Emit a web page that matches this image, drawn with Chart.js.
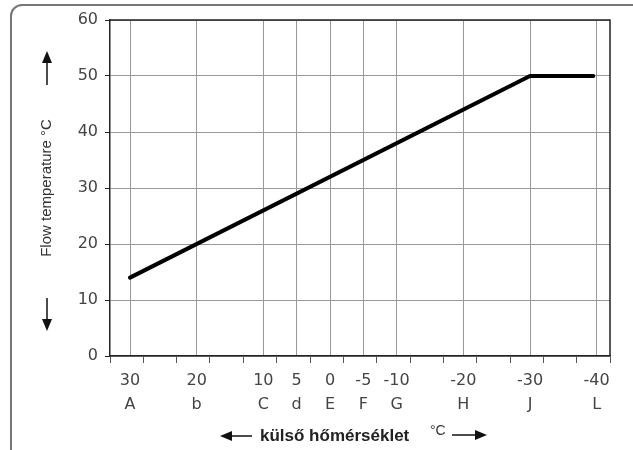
<!DOCTYPE html>
<html>
<head>
<meta charset="utf-8">
<script src="https://cdn.jsdelivr.net/npm/chart.js@4"></script>
<style>
  html, body { margin: 0; padding: 0; background: #fff; overflow: hidden; }
  .wrap { position: relative; width: 633px; height: 450px; }
  .frame {
    position: absolute; left: 10px; top: 4px; right: -20px; bottom: -20px;
    border: 2px solid #777; border-top-left-radius: 12px;
  }
  canvas { position: absolute; left: 0; top: 0; }
</style>
</head>
<body>
<div class="wrap">
  <div class="frame"></div>
  <canvas id="curve" width="633" height="450"></canvas>
</div>
<script>
// outside temperature marks on the x axis (number + letter)
const outsideTemps = [30, 20, 10, 5, 0, -5, -10, -20, -30, -40];
const tempLetters = ['A', 'b', 'C', 'd', 'E', 'F', 'G', 'H', 'J', 'L'];
// the small unlabelled tick marks under the axis
const minorTicks = [33, 28, 23, 18, 13, 8, 3, -2, -7, -12, -17, -22, -27, -32, -37, -42];

// heating curve
const curveOutside = [30, -30, -39.5];
const curveFlow = [14, 50, 50];

const yTicks = [0, 10, 20, 30, 40, 50, 60];

const tickFont = { family: 'DejaVu Sans', size: 16 };
const dark = '#222';

function arrow(ctx, x1, y1, x2, y2) {
    // shaft from (x1,y1) to the tip at (x2,y2)
    const ang = Math.atan2(y2 - y1, x2 - x1);
    const head = 12, half = 5;
    const bx = x2 - head * Math.cos(ang), by = y2 - head * Math.sin(ang);
    ctx.beginPath();
    ctx.moveTo(x1, y1);
    ctx.lineTo(bx, by);
    ctx.lineWidth = 1.5;
    ctx.stroke();
    ctx.beginPath();
    ctx.moveTo(x2, y2);
    ctx.lineTo(bx + half * Math.sin(ang), by - half * Math.cos(ang));
    ctx.lineTo(bx - half * Math.sin(ang), by + half * Math.cos(ang));
    ctx.closePath();
    ctx.fill();
}

const decorations = {
    id: 'decorations',
    afterDraw(chart) {
        const { ctx, chartArea: a } = chart;
        ctx.save();
        // top and right plot border
        ctx.strokeStyle = dark;
        ctx.lineWidth = 1.5;
        ctx.beginPath();
        ctx.moveTo(a.left, a.top);
        ctx.lineTo(a.right, a.top);
        ctx.lineTo(a.right, a.bottom);
        ctx.stroke();

        ctx.fillStyle = '#111';
        ctx.strokeStyle = '#111';
        // arrows beside the y title
        arrow(ctx, 47, a.top + 65, 47, a.top + 31);
        arrow(ctx, 47, a.top + 278, 47, a.top + 311);

        // x title with arrows
        const y = 436;
        const cx = (a.left + a.right) / 2;
        ctx.font = 'bold 17px "Liberation Sans"';
        ctx.textBaseline = 'middle';
        ctx.textAlign = 'left';
        ctx.fillStyle = '#222';
        ctx.fillText('külső hőmérséklet', cx - 100, y);
        ctx.font = '14px "Liberation Sans"';
        ctx.fillStyle = '#333';
        ctx.fillText('°C', cx + 70, y - 5);
        ctx.fillStyle = '#111';
        arrow(ctx, cx - 108, y, cx - 140, y);
        arrow(ctx, cx + 92, y - 1, cx + 127, y - 1);
        ctx.restore();
    }
};

const labelSet = new Set(outsideTemps);

new Chart(document.getElementById('curve'), {
    type: 'line',
    data: {
        datasets: [{
            data: curveOutside.map((x, i) => ({ x, y: curveFlow[i] })),
            borderColor: '#000',
            borderWidth: 4,
            borderCapStyle: 'round',
            pointRadius: 0,
            tension: 0
        }]
    },
    options: {
        responsive: false,
        animation: false,
        layout: { padding: { top: 20, right: 23, left: 0, bottom: 0 } },
        plugins: { legend: { display: false }, tooltip: { enabled: false } },
        scales: {
            x: {
                type: 'linear',
                reverse: true,
                min: -42,
                max: 33,
                afterBuildTicks: scale => {
                    scale.ticks = outsideTemps.concat(minorTicks).map(v => ({ value: v }));
                },
                afterFit: scale => { scale.height = 94; },
                border: { color: dark, width: 1.5 },
                grid: {
                    color: ctx => labelSet.has(ctx.tick.value) ? '#999' : 'rgba(0,0,0,0)',
                    tickColor: ctx => labelSet.has(ctx.tick.value) ? 'rgba(0,0,0,0)' : '#555',
                    tickLength: 7,
                    lineWidth: 1
                },
                ticks: {
                    autoSkip: false,
                    maxRotation: 0,
                    padding: 6,
                    color: '#444',
                    font: { ...tickFont, lineHeight: 1.5 },
                    callback: v => {
                        const i = outsideTemps.indexOf(v);
                        return i < 0 ? '' : [String(v), tempLetters[i]];
                    }
                }
            },
            y: {
                min: 0,
                max: 60,
                afterBuildTicks: scale => {
                    scale.ticks = yTicks.map(v => ({ value: v }));
                },
                afterFit: scale => { scale.width = 110; },
                border: { color: dark, width: 1.5 },
                grid: { color: '#999', tickColor: dark, tickLength: 5, lineWidth: 1 },
                ticks: { padding: 7, color: '#444', font: tickFont },
                title: {
                    display: true,
                    text: 'Flow temperature °C',
                    color: '#333',
                    font: { family: 'Liberation Sans', size: 15 },
                    padding: { top: 38, bottom: 0 }
                }
            }
        }
    },
    plugins: [decorations]
});
</script>
</body>
</html>
